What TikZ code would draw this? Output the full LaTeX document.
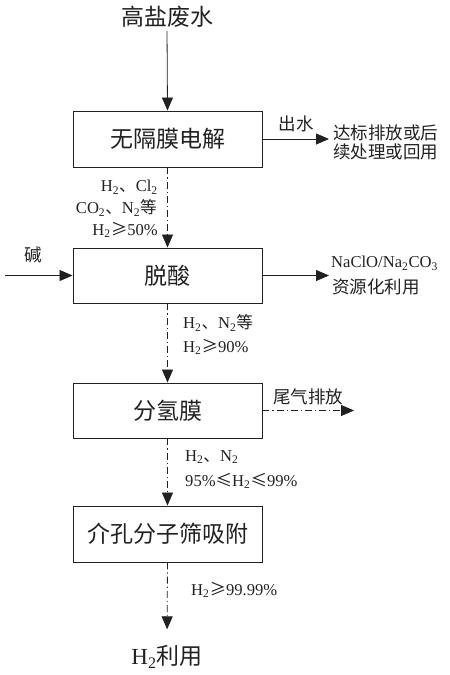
\documentclass[tikz,border=0pt]{standalone}
\usepackage{fontspec}
\setmainfont{Liberation Serif}
\newfontfamily\zh{Noto Sans CJK SC}
\usetikzlibrary{arrows.meta,positioning,calc}
\definecolor{ink}{rgb}{0.13,0.13,0.13}
\newcommand{\ssub}[1]{\textsubscript{#1}}
\newcommand{\zge}{{\zh ≥}}
\newcommand{\zle}{{\zh ≤}}
\tikzset{
  box/.style={draw=ink,line width=0.9pt,minimum width=189pt,inner sep=0pt,font=\zh\fontsize{23}{26}\selectfont,text=ink},
  big/.style={font=\zh\fontsize{23}{26}\selectfont,text=ink,inner sep=0pt},
  lab/.style={font=\fontsize{16.6}{19}\selectfont,text=ink,inner sep=0pt},
  zlab/.style={font=\zh\fontsize{17.5}{22}\selectfont,text=ink,inner sep=0pt},
  flow/.style={draw=ink,line width=0.8pt,-{Triangle[length=13pt,width=11pt]}},
  dflow/.style={flow,dash pattern=on 7pt off 3pt on 1.2pt off 3pt},
}
\begin{document}
\begin{tikzpicture}[x=1pt,y=1pt]
\useasboundingbox (0,0) rectangle (450,-675);
% boxes
\node[box,minimum height=56pt] (b1) at (167.5,-139) {无隔膜电解};
\node[box,minimum height=55pt] (b2) at (167.5,-275.5) {脱酸};
\node[box,minimum height=55pt] (b3) at (167.5,-410.5) {分氢膜};
\node[box,minimum height=56pt] (b4) at (167.5,-534) {介孔分子筛吸附};
% top and bottom texts
\node[big] (src) at (167,-17) {高盐废水};
\node[big] (use) at (167,-657) {{\rmfamily H\ssub{2}}利用};
% main flow
\draw[flow,shorten <=3pt] (src.south) -- (b1.north);
\draw[dflow] (b1.south) -- (b2.north);
\draw[dflow] (b2.south) -- (b3.north);
\draw[dflow] (b3.south) -- (b4.north);
\draw[dflow,shorten >=16pt] (b4.south) -- (use.north);
% side flows
\coordinate (o1) at (329,-139);
\draw[flow] (b1.east) -- (o1);
\node[zlab] (t1) at (296,-124) {出水};
\node[zlab,anchor=west,align=left] (r1) at (333,-142.5) {达标排放或后\\[-2.5pt]续处理或回用};
\coordinate (in2) at (5,-275.5);
\draw[flow] (in2) -- (b2.west);
\node[zlab] (alk) at (33,-255) {碱};
\coordinate (o2) at (329,-275.5);
\draw[flow] (b2.east) -- (o2);
\node[lab,anchor=west] (r2a) at (331,-263) {NaClO/Na\ssub{2}CO\ssub{3}};
\node[zlab,anchor=west] (r2b) at (332,-287) {资源化利用};
\coordinate (o3) at (354,-410.5);
\draw[dflow] (b3.east) -- (o3);
\node[zlab] (t3) at (308,-397) {尾气排放};
% gas labels
\node[lab,anchor=east] (g1a) at (158,-187) {H\ssub{2}{\zh 、}Cl\ssub{2}};
\node[lab,anchor=east] (g1b) at (157,-208) {CO\ssub{2}{\zh 、}N\ssub{2}{\zh 等}};
\node[lab,anchor=east] (g1c) at (158,-230) {H\ssub{2}\zge 50\%};
\node[lab,anchor=west] (g2a) at (183,-323) {H\ssub{2}{\zh 、}N\ssub{2}{\zh 等}};
\node[lab,anchor=west] (g2b) at (183,-347) {H\ssub{2}\zge 90\%};
\node[lab,anchor=west] (g3a) at (185,-457) {H\ssub{2}{\zh 、}N\ssub{2}};
\node[lab,anchor=west] (g3b) at (185,-481) {95\%\zle H\ssub{2}\zle 99\%};
\node[lab,anchor=west] (g4) at (191,-590) {H\ssub{2}\zge 99.99\%};
\end{tikzpicture}
\end{document}
